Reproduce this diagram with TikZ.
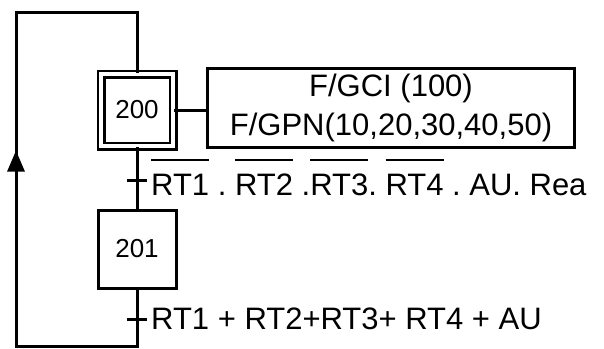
\documentclass[tikz,border=0pt]{standalone}
\usepackage{fontspec}
\setmainfont{Liberation Sans}
\usetikzlibrary{arrows.meta,decorations.markings}
\frenchspacing
\newcommand{\negsig}[1]{\leavevmode\setbox0=\hbox{#1}\rlap{\rule[34pt]{\wd0}{2.4pt}}\box0\relax}
\begin{document}
\begin{tikzpicture}[x=1pt,y=-1pt,
  stepbox/.style={draw, line width=3pt, minimum size=78pt, inner sep=0pt, font=\fontsize{26}{30}\selectfont},
  initbox/.style={stepbox, line width=2.8pt, double, double distance=3.4pt, minimum size=72pt},
  actbox/.style={draw, line width=3pt, minimum width=367pt, minimum height=79pt, align=center, font=\fontsize{31}{39}\selectfont},
  link/.style={line width=3pt},
  tick/.style={line width=3pt},
  cond/.style={inner sep=0pt, anchor=base west, font=\fontsize{31}{39}\selectfont}]
\useasboundingbox (0,0) rectangle (604,348);
\node[initbox] (s200) at (137,110) {200};
\node[stepbox] (s201) at (137,249) {201};
\node[actbox] (act) at (391,108) {F/GCI (100)\\F/GPN(10,20,30,40,50)};
\draw[link] (s200.east) -- (s200.east -| act.west);
\draw[link] (s200) -- (s201);
\coordinate (t1) at (137,180);
\coordinate (t2) at (137,319);
\draw[tick] ([xshift=-10pt]t1) -- ([xshift=10pt]t1);
\draw[tick] ([xshift=-10pt]t2) -- ([xshift=10pt]t2);
\node[cond] (c1) at (151,195) {\negsig{RT1} . \negsig{RT2} .\negsig{RT3}. \negsig{RT4} . AU. Rea};
\node[cond] (c2) at (151,329) {RT1 + RT2+RT3+ RT4 + AU};
\coordinate (loopbl) at (16,346);
\coordinate (looptl) at (16,12);
\draw[link, postaction={decorate}, decoration={markings, mark=at position 373pt with {\arrow{Triangle[length=21pt, width=17pt]}}}]
  (s201.south) |- (loopbl) -- (looptl) -| (s200.north);
\end{tikzpicture}
\end{document}
